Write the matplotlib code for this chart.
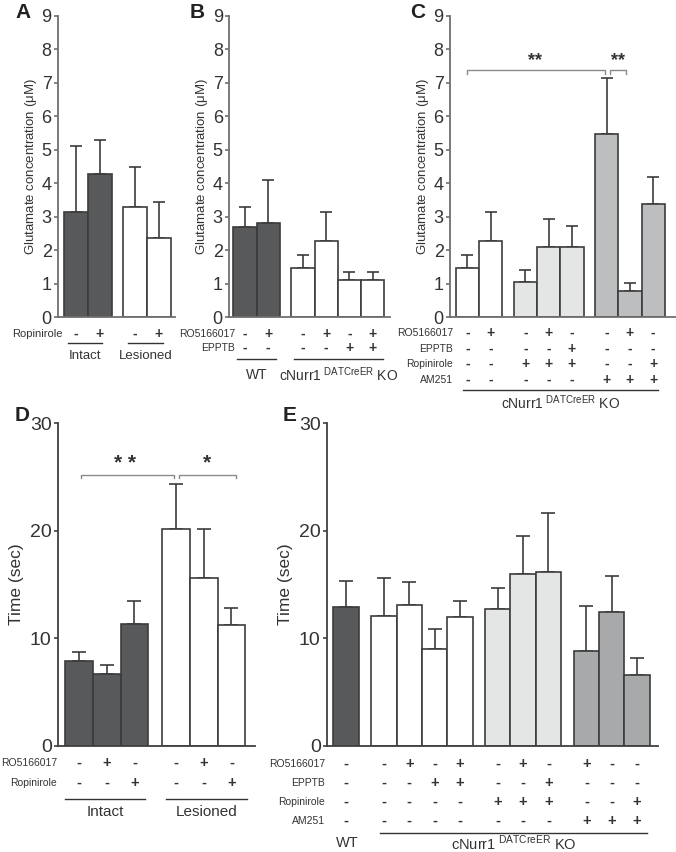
import matplotlib
matplotlib.use("Agg")
import matplotlib.pyplot as plt
from matplotlib import transforms

plt.rcParams['font.family'] = ['Liberation Sans', 'DejaVu Sans']
plt.rcParams['mathtext.fontset'] = 'custom'
plt.rcParams['mathtext.rm'] = 'Liberation Sans'

# ---- data ----
# A: glutamate, intact vs lesioned, ropinirole
a_pos = [0, 1, 2.45, 3.45]
a_mean = [3.15, 4.28, 3.28, 2.36]
a_top = [5.10, 5.28, 4.50, 3.43]
a_rop = ['-', '+', '-', '+']

# B: glutamate, WT vs cNurr1 KO
b_pos = [0, 1, 2.5, 3.5, 4.5, 5.5]
b_mean = [2.70, 2.80, 1.48, 2.26, 1.10, 1.10]
b_top = [3.30, 4.10, 1.86, 3.13, 1.34, 1.35]
b_ro = ['-', '+', '-', '+', '-', '+']
b_epptb = ['-', '-', '-', '-', '+', '+']

# C: glutamate, cNurr1 KO treatments
c_pos = [0, 1, 2.5, 3.5, 4.5, 6, 7, 8]
c_mean = [1.47, 2.26, 1.05, 2.08, 2.10, 5.46, 0.77, 3.38]
c_top = [1.86, 3.13, 1.41, 2.94, 2.72, 7.14, 1.02, 4.19]
c_ro = ['-', '+', '-', '+', '-', '-', '+', '-']
c_epptb = ['-', '-', '-', '-', '+', '-', '-', '-']
c_rop = ['-', '-', '+', '+', '+', '-', '-', '+']
c_am = ['-', '-', '-', '-', '-', '+', '+', '+']

# D: time, intact vs lesioned
d_pos = [0, 1, 2, 3.5, 4.5, 5.5]
d_mean = [7.9, 6.65, 11.35, 20.2, 15.6, 11.2]
d_top = [8.7, 7.5, 13.5, 24.3, 20.2, 12.8]
d_ro = ['-', '+', '-', '-', '+', '-']
d_rop = ['-', '-', '+', '-', '-', '+']

# E: time, WT vs cNurr1 KO treatments
e_pos = [0, 1.5, 2.5, 3.5, 4.5, 6, 7, 8, 9.5, 10.5, 11.5]
e_mean = [12.95, 12.05, 13.14, 9.0, 11.96, 12.7, 16.0, 16.12, 8.82, 12.48, 6.58]
e_top = [15.37, 15.59, 15.22, 10.9, 13.5, 14.72, 19.5, 21.65, 13.01, 15.8, 8.17]
e_ro = ['-', '-', '+', '-', '+', '-', '+', '-', '+', '-', '-']
e_epptb = ['-', '-', '-', '+', '+', '-', '-', '+', '-', '-', '-']
e_rop = ['-', '-', '-', '-', '-', '+', '+', '+', '-', '-', '+']
e_am = ['-', '-', '-', '-', '-', '-', '-', '-', '+', '+', '+']

DARK = '#58595b'
WHITE = '#ffffff'
LIGHT = '#e4e6e5'
MIDC = '#bdbebf'
MIDE = '#a7a9ab'
EDGE = '#3c3c3c'

a_col = [DARK] * 2 + [WHITE] * 2
b_col = [DARK] * 2 + [WHITE] * 4
c_col = [WHITE] * 2 + [LIGHT] * 3 + [MIDC] * 3
d_col = [DARK] * 3 + [WHITE] * 3
e_col = [DARK] + [WHITE] * 4 + [LIGHT] * 3 + [MIDE] * 3

W, H = 676, 852
fig = plt.figure(figsize=(W / 100, H / 100), dpi=100)


def add_ax(left, top, right, bottom):
    return fig.add_axes([left / W, 1 - bottom / H, (right - left) / W, (bottom - top) / H])


def bars(ax, pos, mean, top, cols, xlim, ymax, yticks, tsize, spine_col, cap=4.3):
    ax.bar(pos, mean, width=1.0, color=cols, edgecolor=EDGE, linewidth=1.2, zorder=2)
    err = [t - m for t, m in zip(top, mean)]
    ax.errorbar(pos, mean, yerr=[[0] * len(err), err], fmt='none', ecolor=EDGE,
                elinewidth=1.2, capsize=cap, capthick=1.2, zorder=1)
    ax.set_xlim(*xlim)
    ax.set_ylim(0, ymax)
    ax.set_yticks(yticks)
    ax.set_xticks([])
    for s in ['top', 'right']:
        ax.spines[s].set_visible(False)
    for s in ['left', 'bottom']:
        ax.spines[s].set_color(spine_col)
        ax.spines[s].set_linewidth(1.3)
    ax.tick_params(axis='y', length=3, width=1.2, color=spine_col, pad=1.5, labelsize=tsize,
                   labelcolor='#333333')
    ax.patch.set_alpha(0)


def rows(ax, pos, names, signs, ys, name_x, fs=7.5, sfs=10):
    tr = transforms.blended_transform_factory(ax.transData, fig.transFigure)
    for name, sg, y in zip(names, signs, ys):
        fig.text(name_x / W, 1 - y / H, name, ha='right', va='center', fontsize=fs, color='#333333')
        for p, s in zip(pos, sg):
            ax.text(p, 1 - y / H, s, transform=tr, ha='center', va='center',
                    fontsize=sfs, fontweight='bold', color='#333333')


def group_line(ax, x0, x1, y, label, ly, fs=9.5):
    tr = transforms.blended_transform_factory(ax.transData, fig.transFigure)
    ax.plot([x0, x1], [1 - y / H] * 2, transform=tr, color='#333333', lw=1.0, clip_on=False)
    if label:
        ax.text((x0 + x1) / 2, 1 - ly / H, label, transform=tr, ha='center', va='center',
                fontsize=fs, color='#333333')


def bracket(ax, x0, x1, y, drop, color, lw=1.0):
    ax.plot([x0, x0, x1, x1], [y - drop, y, y, y - drop], color=color, lw=lw, clip_on=False)


KO = r"cNurr1$^{\ \mathrm{DATCreER}}$ KO"
glu = r"Glutamate concentration ($\mathrm{\mu}$M)"

# ---- A ----
axA = add_ax(58, 16, 175, 317)
bars(axA, a_pos, a_mean, a_top, a_col, (-0.75, 4.125), 9, range(0, 10), 13, '#707070')
axA.set_ylabel(glu, fontsize=9.5, color='#333333', labelpad=2)
rows(axA, a_pos, ['Ropinirole'], [a_rop], [334], 63, fs=8)
group_line(axA, -0.33, 1.08, 343, 'Intact', 356, 9.5)
group_line(axA, 2.17, 3.63, 343, 'Lesioned', 356, 9.5)

# ---- B ----
axB = add_ax(229, 16, 390, 317)
bars(axB, b_pos, b_mean, b_top, b_col, (-0.69, 6.25), 9, range(0, 10), 13, '#707070')
axB.set_ylabel(glu, fontsize=9.5, color='#333333', labelpad=2)
rows(axB, b_pos, ['RO5166017', 'EPPTB'], [b_ro, b_epptb], [334, 348], 235)
group_line(axB, -0.34, 1.34, 359, 'WT', 375, 10)
group_line(axB, 2.11, 5.95, 359, KO, 375, 10)

# ---- C ----
axC = add_ax(450, 16, 675, 317)
bars(axC, c_pos, c_mean, c_top, c_col, (-0.75, 8.94), 9, range(0, 10), 13, '#707070')
axC.set_ylabel(glu, fontsize=9.5, color='#333333', labelpad=2)
rows(axC, c_pos, ['RO5166017', 'EPPTB', 'Ropinirole', 'AM251'],
     [c_ro, c_epptb, c_rop, c_am], [333, 349, 364, 380], 453)
group_line(axC, -0.19, 8.21, 390, KO, 403, 10)
bracket(axC, 0.0, 5.93, 7.4, 0.13, '#8a8a8a')
bracket(axC, 6.12, 6.83, 7.4, 0.13, '#8a8a8a')
axC.text(2.9, 7.42, '**', ha='center', va='bottom', fontsize=13, fontweight='bold', color='#333333')
axC.text(6.48, 7.42, '**', ha='center', va='bottom', fontsize=13, fontweight='bold', color='#333333')

# ---- D ----
axD = add_ax(58, 423, 255, 746)
bars(axD, d_pos, d_mean, d_top, d_col, (-0.76, 6.35), 30, [0, 10, 20, 30], 14, '#404040', cap=4.7)
axD.set_ylabel('Time (sec)', fontsize=12.5, color='#333333', labelpad=4)
rows(axD, d_pos, ['RO5166017', 'Ropinirole'], [d_ro, d_rop], [763, 783], 57, fs=7.5, sfs=10.5)
group_line(axD, -0.5, 2.38, 799, 'Intact', 812, 11)
group_line(axD, 3.14, 6.06, 799, 'Lesioned', 812, 11)
bracket(axD, 0.07, 3.43, 25.2, 0.35, '#8a8a8a')
bracket(axD, 3.61, 5.67, 25.2, 0.35, '#8a8a8a')
axD.text(1.66, 25.4, '* *', ha='center', va='bottom', fontsize=15, fontweight='bold', color='#333333')
axD.text(4.62, 25.4, '*', ha='center', va='bottom', fontsize=15, fontweight='bold', color='#333333')

# ---- E ----
axE = add_ax(327, 423, 658, 746)
bars(axE, e_pos, e_mean, e_top, e_col, (-0.75, 12.33), 30, [0, 10, 20, 30], 14, '#404040', cap=4.7)
axE.set_ylabel('Time (sec)', fontsize=12.5, color='#333333', labelpad=4)
rows(axE, e_pos, ['RO5166017', 'EPPTB', 'Ropinirole', 'AM251'],
     [e_ro, e_epptb, e_rop, e_am], [764, 783, 802, 821], 325, fs=7.5, sfs=10.5)
group_line(axE, 1.34, 11.9, 833, KO, 843, 10.5)
trE = transforms.blended_transform_factory(axE.transData, fig.transFigure)
axE.text(0.04, 1 - 843 / H, 'WT', transform=trE, ha='center', va='center', fontsize=10.5, color='#333333')

# panel letters
for letter, x, y in [('A', 15, 12), ('B', 190, 12), ('C', 410, 12), ('D', 15, 416), ('E', 283, 416)]:
    fig.text(x / W, 1 - y / H, letter, fontsize=15, fontweight='bold', ha='left', va='center', color='#222222')

fig.savefig('out.png', dpi=100)
